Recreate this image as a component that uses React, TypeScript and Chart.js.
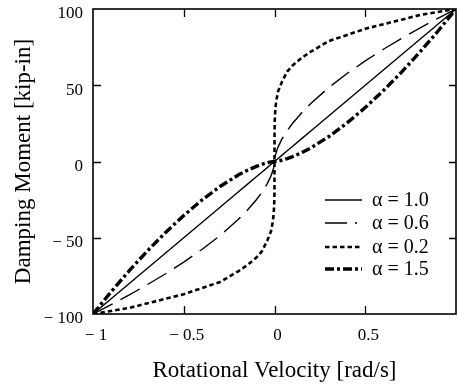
import { useEffect, useRef } from 'react';
import { Chart, registerables } from 'chart.js';

Chart.register(...registerables);

// Rotational velocity samples [rad/s] (dense near 0 to capture the steep curves)
const velocity = [
  -1, -0.9, -0.8, -0.7, -0.6, -0.5, -0.4, -0.3, -0.2, -0.15, -0.1, -0.07, -0.04, -0.02, -0.01,
  -0.005, -0.002, -0.0005, -0.0001, 0, 0.0001, 0.0005, 0.002, 0.005, 0.01, 0.02, 0.04, 0.07, 0.1,
  0.15, 0.2, 0.3, 0.4, 0.5, 0.6, 0.7, 0.8, 0.9, 1,
];

// Damping moment [kip-in]
const alpha10 = [
  -100, -90, -80, -70, -60, -50, -40, -30, -20, -15, -10, -7, -4, -2, -1,
  -0.5, -0.2, -0.05, -0.01, 0, 0.01, 0.05, 0.2, 0.5, 1, 2, 4, 7, 10,
  15, 20, 30, 40, 50, 60, 70, 80, 90, 100,
];
const alpha06 = [
  -100, -93.9, -87.5, -80.7, -73.6, -66, -57.7, -48.6, -38.1, -32, -25.1, -20.3, -14.5, -9.6, -6.3,
  -4.2, -2.4, -1, -0.4, 0, 0.4, 1, 2.4, 4.2, 6.3, 9.6, 14.5, 20.3, 25.1,
  32, 38.1, 48.6, 57.7, 66, 73.6, 80.7, 87.5, 93.9, 100,
];
const alpha02 = [
  -100, -98, -96, -93, -90, -87, -83, -79, -72, -68, -63, -59, -52, -46, -40,
  -35, -29, -22, -16, 0, 16, 22, 29, 35, 40, 46, 52, 59, 63,
  68, 72, 79, 83, 87, 90, 93, 96, 98, 100,
];
const alpha15 = [
  -100, -85.4, -71.6, -58.6, -46.5, -35.4, -25.3, -16.4, -8.9, -5.8, -3.2, -1.9, -0.8, -0.3, -0.1,
  0, 0, 0, 0, 0, 0, 0, 0, 0, 0.1, 0.3, 0.8, 1.9, 3.2,
  5.8, 8.9, 16.4, 25.3, 35.4, 46.5, 58.6, 71.6, 85.4, 100,
];

const xTickValues = [-1, -0.5, 0, 0.5, 1];
const xTickLabels = ['− 1', '− 0.5', '0', '0.5', ''];
const yTickValues = [-100, -50, 0, 50, 100];
const yTickLabels = ['− 100', '− 50', '0', '50', '100'];
const seriesLabels = ['α = 1.0', 'α = 0.6', 'α = 0.2', 'α = 1.5'];
const xTitle = 'Rotational Velocity [rad/s]';
const yTitle = 'Damping Moment [kip-in]';

const SERIF = "'Liberation Serif', 'Times New Roman', serif";

const lineStyles = [
  { width: 1.4, dash: [] as number[], legendDash: [] as number[] },
  { width: 1.4, dash: [22, 9], legendDash: [22, 8, 2, 100] },
  { width: 2.6, dash: [4.5, 3], legendDash: [4.5, 3] },
  { width: 3.4, dash: [9, 3, 3, 3], legendDash: [9, 3, 3, 3] },
];

function lookup(values: number[], labels: string[], v: number) {
  const i = values.findIndex((t) => Math.abs(t - v) < 1e-9);
  return i >= 0 ? labels[i] : '';
}

const framePlugin = {
  id: 'frame',
  afterDatasetsDraw(chart: any) {
    const { ctx, chartArea, scales } = chart;
    const { left, right, top, bottom } = chartArea;
    const xs = scales.x;
    const ys = scales.y;
    ctx.save();
    ctx.strokeStyle = '#000';
    ctx.setLineDash([]);
    ctx.lineWidth = 1.6;
    ctx.strokeRect(left, top, right - left, bottom - top);
    ctx.lineWidth = 1.3;
    ctx.beginPath();
    for (const v of xTickValues) {
      if (v <= -1 || v >= 1) continue;
      const px = Math.round(xs.getPixelForValue(v)) + 0.5;
      ctx.moveTo(px, bottom);
      ctx.lineTo(px, bottom - 8);
      ctx.moveTo(px, top);
      ctx.lineTo(px, top + 8);
    }
    for (const v of yTickValues) {
      if (v <= -100 || v >= 100) continue;
      const py = Math.round(ys.getPixelForValue(v)) + 0.5;
      ctx.moveTo(left, py);
      ctx.lineTo(left + 8, py);
      ctx.moveTo(right, py);
      ctx.lineTo(right - 7, py);
    }
    ctx.stroke();

    // legend
    const lx0 = right - 131;
    const lx1 = right - 94;
    const tx = right - 84;
    const rowY = [top + 191, top + 214, top + 238, top + 260];
    ctx.font = `20px ${SERIF}`;
    ctx.fillStyle = '#000';
    ctx.textBaseline = 'middle';
    ctx.textAlign = 'left';
    seriesLabels.forEach((label, i) => {
      const st = lineStyles[i];
      ctx.lineWidth = st.width;
      ctx.setLineDash(st.legendDash);
      ctx.beginPath();
      ctx.moveTo(lx0, rowY[i]);
      ctx.lineTo(lx1, rowY[i]);
      ctx.stroke();
      ctx.setLineDash([]);
      ctx.fillText(label, tx, rowY[i] + 1);
    });
    ctx.restore();
  },
};

export default function App() {
  const canvasRef = useRef<HTMLCanvasElement | null>(null);

  useEffect(() => {
    if (!canvasRef.current) return;
    const series = [alpha10, alpha06, alpha02, alpha15];
    const chart = new Chart(canvasRef.current, {
      type: 'scatter',
      data: {
        datasets: series.map((vals, i) => ({
          label: seriesLabels[i],
          data: velocity.map((x, j) => ({ x, y: vals[j] })),
          showLine: true,
          borderColor: '#000',
          backgroundColor: '#000',
          borderWidth: lineStyles[i].width,
          borderDash: lineStyles[i].dash,
          pointRadius: 0,
          pointHoverRadius: 0,
          tension: 0,
          fill: false,
        })),
      },
      options: {
        responsive: false,
        animation: false,
        maintainAspectRatio: false,
        layout: { padding: { left: 0, right: 4, top: 9, bottom: 0 } },
        plugins: {
          legend: { display: false },
          tooltip: { enabled: false },
        },
        scales: {
          x: {
            type: 'linear',
            min: -1,
            max: 1,
            grid: { display: false },
            border: { display: false },
            afterFit: (s: any) => {
              s.height = 73;
              s.paddingLeft = 0;
              s.paddingRight = 0;
            },
            ticks: {
              stepSize: 0.5,
              padding: 3,
              labelOffset: 3,
              color: '#000',
              font: { family: SERIF, size: 17 },
              maxRotation: 0,
              autoSkip: false,
              callback: (v: any) => lookup(xTickValues, xTickLabels, Number(v)),
            },
            title: {
              display: true,
              text: xTitle,
              color: '#000',
              font: { family: SERIF, size: 23 },
              padding: { top: 0, bottom: 2 },
            },
          },
          y: {
            type: 'linear',
            min: -100,
            max: 100,
            grid: { display: false },
            border: { display: false },
            afterFit: (s: any) => {
              s.width = 93;
              s.paddingTop = 0;
              s.paddingBottom = 0;
            },
            ticks: {
              stepSize: 50,
              padding: 2,
              labelOffset: 5,
              color: '#000',
              font: { family: SERIF, size: 17 },
              autoSkip: false,
              callback: (v: any) => lookup(yTickValues, yTickLabels, Number(v)),
            },
            title: {
              display: true,
              text: yTitle,
              color: '#000',
              font: { family: SERIF, size: 23 },
              padding: { top: 10, bottom: 0 },
            },
          },
        },
      },
      plugins: [framePlugin],
    });
    return () => chart.destroy();
  }, []);

  return (
    <div style={{ position: 'fixed', left: 0, top: 0, width: 460, height: 387, background: '#fff' }}>
      <canvas ref={canvasRef} width={460} height={387} style={{ width: 460, height: 387 }} />
    </div>
  );
}
